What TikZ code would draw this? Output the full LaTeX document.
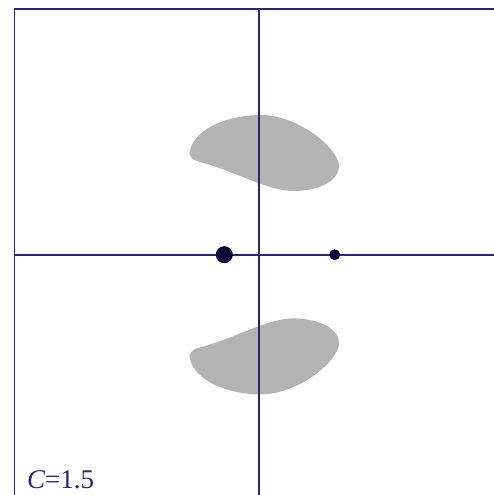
\documentclass[tikz,border=0pt]{standalone}
\usepackage{fontspec}
\setmainfont{Liberation Serif}
\definecolor{axiscol}{RGB}{38,38,105}
\definecolor{dotcol}{RGB}{2,2,50}
\definecolor{blobcol}{RGB}{179,179,179}
\tikzset{
  axisline/.style={draw=axiscol, line width=1.8pt},
  blob/.style={fill=blobcol, draw=none},
  bigdot/.style={circle, fill=dotcol, inner sep=0pt, minimum size=17pt},
  smalldot/.style={circle, fill=dotcol, inner sep=0pt, minimum size=11pt},
  lbl/.style={anchor=base west, inner sep=0pt, text=axiscol, font=\fontsize{27pt}{30pt}\selectfont}
}
\newcommand{\blobpath}{(190,150) .. controls (196,128) and (228,115) .. (262,115)
  .. controls (300,116) and (337,148) .. (339,165)
  .. controls (340,180) and (320,191) .. (293,191)
  .. controls (268,191) and (232,170) .. (200,162)
  .. controls (192,160) and (188,156) .. (190,150) -- cycle}
\begin{document}
\begin{tikzpicture}[x=1pt, y=-1pt]
\useasboundingbox (0,0) rectangle (494,495);
% blobs
\fill[blob] \blobpath;
\begin{scope}[shift={(0,509.4)}, yscale=-1]
\fill[blob] \blobpath;
\end{scope}
% frame and axes
\coordinate (fbl) at (14.5,497);
\coordinate (ftl) at (14.5,9.3);
\coordinate (ftr) at (496,9.3);
\coordinate (vt) at (259,9.3);
\coordinate (vb) at (259,497);
\coordinate (hl) at (14.5,254.7);
\coordinate (hr) at (496,254.7);
\draw[axisline] (fbl) -- (ftl) -- (ftr);
\draw[axisline] (vt) -- (vb);
\draw[axisline] (hl) -- (hr);
% dots
\node[bigdot] (m1) at (224.3,254.7) {};
\node[smalldot] (m2) at (334.7,254.7) {};
% label
\node[lbl] (c) at (27,488) {\itshape C\upshape=1.5};
\end{tikzpicture}
\end{document}
